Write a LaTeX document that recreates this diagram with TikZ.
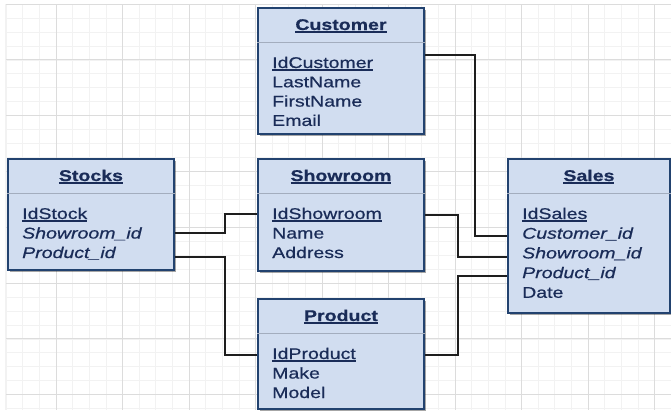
\documentclass[tikz,border=0pt]{standalone}
\usepackage{fontspec}
\setmainfont{Liberation Sans}[FakeStretch=1.26, FakeBold=0.6]
\newcommand\myul[1]{\setbox0\hbox{#1}\rlap{\rule[-2.6pt]{\wd0}{1.2pt}}\box0}
\usetikzlibrary{shadows,calc}
\definecolor{boxfill}{HTML}{D1DDF0}
\definecolor{boxline}{HTML}{22426F}
\definecolor{txt}{HTML}{1A2C58}
\definecolor{sepc}{HTML}{A3ADBE}
\definecolor{gmaj}{HTML}{DCDCDC}
\definecolor{gmin}{HTML}{F2F2F2}
\definecolor{connc}{HTML}{1E1E1E}
\tikzset{
  tbl/.style={draw=boxline, line width=1.9pt, fill=boxfill, rectangle, inner sep=0pt,
    drop shadow={shadow xshift=2pt, shadow yshift=-2pt, opacity=0.35, fill=black}},
  sepline/.style={draw=sepc, line width=1pt},
  ttl/.style={inner sep=0pt, text=txt, font=\fontsize{15.5}{18}\selectfont\bfseries},
  fld/.style={inner sep=0pt, text=txt, font=\fontsize{15.5}{18}\selectfont},
  conn/.style={draw=connc, line width=2pt},
  gridmaj/.style={draw=gmaj, line width=0.8pt},
  gridmin/.style={draw=gmin, line width=0.6pt}
}
\newcommand\erbox[8]{% name, x, y, w, h, title, row step, fields
  \node[tbl, minimum width=#4pt, minimum height=#5pt, anchor=north west] (#1) at (#2,#3) {};
  \draw[sepline] ([yshift=-35.5pt]#1.north west) -- ([yshift=-35.5pt]#1.north east);
  \node[ttl, anchor=base] (#1-t) at ([yshift=-23pt]#1.north) {\myul{#6}};
  \foreach \f [count=\k from 0] in {#8}
    \node[fld, anchor=base west] (#1-\k) at ([xshift=15pt, yshift={-61pt-#7pt*\k}]#1.north west) {\f};
}
\begin{document}
\begin{tikzpicture}[x=1pt,y=-1pt]
\fill[white] (0,0) rectangle (671,410);
\useasboundingbox (0,0) rectangle (671,410);
% grid
\foreach \i in {0,...,40} \draw[gridmin] ({6.125+16.625*\i},4) -- ({6.125+16.625*\i},410);
\foreach \j in {0,...,29} \draw[gridmin] (5,{4+13.95*\j}) -- (671,{4+13.95*\j});
\foreach \i in {0,...,9} \draw[gridmaj] ({56+66.5*\i},4) -- ({56+66.5*\i},410);
\foreach \j in {0,...,7} \draw[gridmaj] (5,{4+55.8*\j}) -- (671,{4+55.8*\j});
\draw[gridmaj] (5,4) -- (671,4);
\draw[gridmin] (5,4) -- (5,410);
% tables
\erbox{cust}{257}{7}{166}{126}{Customer}{19.3}{{\myul{IdCustomer}},LastName,FirstName,Email}
\erbox{st}{7}{158}{166}{111}{Stocks}{19.5}{{\myul{IdStock}},{\textit{Showroom\_id}},{\textit{Product\_id}}}
\erbox{sr}{257}{158}{166}{112}{Showroom}{19.5}{{\myul{IdShowroom}},Name,Address}
\erbox{sa}{507}{158}{162}{154}{Sales}{19.7}{{\myul{IdSales}},{\textit{Customer\_id}},{\textit{Showroom\_id}},{\textit{Product\_id}},Date}
\erbox{pr}{257}{298}{166}{110}{Product}{19.5}{{\myul{IdProduct}},Make,Model}
% connector end points
\coordinate (c1a) at ($(cust.east |- cust-0.base)+(0,-13)$);
\coordinate (c1b) at ($(sa.west |- sa-1.base)+(0,-2.5)$);
\coordinate (c2a) at ($(st.east |- st-1.base)+(0,-6)$);
\coordinate (c2b) at ($(sr.west |- sr-0.base)+(0,-5.5)$);
\coordinate (c3a) at ($(st.east |- st-2.base)+(0,-1)$);
\coordinate (c3b) at ($(pr.west |- pr-0.base)+(0,-4.5)$);
\coordinate (c4a) at ($(sr.east |- sr-0.base)+(0,-4.5)$);
\coordinate (c4b) at ($(sa.west |- sa-2.base)+(0,-1.5)$);
\coordinate (c5a) at ($(pr.east |- pr-0.base)+(0,-4.5)$);
\coordinate (c5b) at ($(sa.west |- sa-3.base)+(0,-2.5)$);
% connectors
\draw[conn] (c1a) -- ++(50,0) |- (c1b);
\draw[conn] (c2a) -- ++(50,0) |- (c2b);
\draw[conn] (c3a) -- ++(50,0) |- (c3b);
\draw[conn] (c4a) -- ++(33,0) |- (c4b);
\draw[conn] (c5a) -- ++(33,0) |- (c5b);
\end{tikzpicture}
\end{document}
